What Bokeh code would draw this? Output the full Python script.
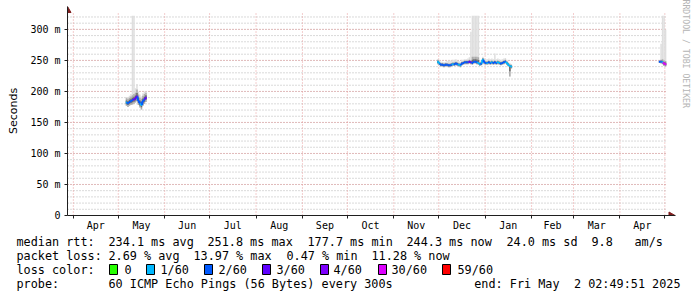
import math
import pandas as pd
from bokeh.plotting import figure
from bokeh.layouts import column
from bokeh.models import ColumnDataSource, FixedTicker, Range1d, Title
from bokeh.core.properties import value
from bokeh.embed import file_html
from bokeh.resources import INLINE

# ---------------- data ----------------
END = "2025-05-02 02:49:51"
SPAN_DAYS = 400

# cluster 1 : daily samples from 2024-05-06
c1_start = "2024-05-06"
c1_median = [182, 181, 183, 184, 186, 187, 189, 192, 185, 181, 178, 184, 187, 190]
c1_loss = [1, 2, 2, 2, 2, 3, 3, 3, 2, 2, 1, 2, 2, 3]
c1_lo = [177, 175, 177, 178, 179, 180, 182, 184, 178, 174, 171, 177, 180, 183]
c1_hi = [189, 188, 190, 192, 194, 196, 198, 203, 195, 190, 188, 193, 196, 198]
c1_top = [191, 190, 193, 196, 322, 322, 205, 212, 200, 195, 192, 197, 200, 200]

# cluster 2 : daily samples from 2024-11-30
c2_start = "2024-11-30"
c2_median = [248, 245, 243, 243, 242, 243, 243, 242, 242, 243,
             244, 244, 245, 244, 243, 242, 245, 246, 247, 247,
             247, 248, 247, 246, 248, 248, 247, 246, 244, 245,
             251, 247, 246, 246, 247, 246, 247, 246, 247, 246,
             247, 246, 245, 246, 247, 248, 246, 243, 241, 240]
c2_loss = [1, 1, 2, 2, 2, 2, 2, 2, 2, 2,
           1, 2, 2, 2, 1, 1, 2, 2, 2, 2,
           2, 3, 3, 2, 2, 2, 2, 1, 1, 2,
           1, 2, 2, 1, 2, 2, 1, 2, 2, 2,
           1, 1, 2, 2, 2, 2, 1, 1, 1, 1]
c2_lo = [244, 242, 240, 240, 239, 240, 240, 239, 239, 240,
         241, 241, 242, 241, 240, 239, 242, 243, 244, 244,
         244, 245, 244, 243, 245, 245, 244, 243, 241, 242,
         247, 244, 243, 243, 244, 243, 244, 243, 244, 243,
         244, 243, 242, 243, 244, 245, 243, 240, 224, 237]
c2_hi = [251, 248, 246, 246, 245, 246, 246, 245, 245, 246,
         247, 247, 248, 247, 246, 245, 248, 249, 250, 250,
         250, 251, 250, 256, 256, 256, 256, 255, 247, 248,
         254, 250, 249, 249, 250, 249, 250, 249, 250, 249,
         250, 249, 248, 249, 250, 251, 249, 246, 244, 243]
c2_top = [252, 250, 248, 248, 247, 248, 249, 250, 250, 250,
          251, 251, 252, 250, 249, 248, 251, 251, 252, 252,
          253, 255, 296, 322, 322, 322, 322, 322, 250, 250,
          256, 253, 252, 252, 253, 252, 253, 252, 261, 252,
          253, 252, 251, 252, 253, 254, 251, 248, 246, 244]

# cluster 3 : daily samples from 2025-04-27
c3_start = "2025-04-27"
c3_median = [248, 248, 247, 245, 244]
c3_loss = [2, 2, 1, 5, 5]
c3_lo = [246, 245, 244, 241, 240]
c3_hi = [250, 251, 252, 250, 249]
c3_top = [250, 277, 322, 322, 300]

loss_labels = ["0", "1/60", "2/60", "3/60", "4/60", "30/60", "59/60"]
loss_colors = ["#26ff00", "#00b8ff", "#0059ff", "#5e00ff", "#7e00ff", "#dd00ff", "#ff0000"]

month_labels = ["Apr", "May", "Jun", "Jul", "Aug", "Sep", "Oct", "Nov", "Dec",
                "Jan", "Feb", "Mar", "Apr"]
first_month = "2024-04-01"

y_ticks = [0, 50, 100, 150, 200, 250, 300]
y_labels = ["0", "50 m", "100 m", "150 m", "200 m", "250 m", "300 m"]
y_minor = list(range(10, 330, 10))

rtt_items = ["median rtt:", "234.1 ms avg", "251.8 ms max", "177.7 ms min",
             "244.3 ms now", "24.0 ms sd", "9.8", "am/s"]
loss_items = ["packet loss:", "2.69 % avg", "13.97 % max", "0.47 % min", "11.28 % now"]
probe_items = ["probe:", "60 ICMP Echo Pings (56 Bytes) every 300s"]
end_items = ["end: Fri May", "2 02:49:51 2025"]
credit = "RRDTOOL / TOBI OETIKER"

# ---------------- helpers ----------------
def to_ms(ts):
    return int(pd.Timestamp(ts).value // 1_000_000)

DAY = 86400000
end_ms = to_ms(END)
start_ms = end_ms - SPAN_DAYS * DAY
PX_MS = SPAN_DAYS * DAY / 600.0      # time per pixel
PX_Y = 324 / 201.0                    # ms of rtt per pixel

clusters = [
    (c1_start, c1_median, c1_loss, c1_lo, c1_hi, c1_top),
    (c2_start, c2_median, c2_loss, c2_lo, c2_hi, c2_top),
    (c3_start, c3_median, c3_loss, c3_lo, c3_hi, c3_top),
]

q = dict(left=[], right=[], lo=[], hi=[], top=[], ilo=[], ihi=[])
seg = dict(x0=[], x1=[], y0=[], y1=[], color=[])
for start, med, loss, lo, hi, top in clusters:
    t0 = to_ms(start)
    for i in range(len(med)):
        l = t0 + i * DAY
        r = min(l + DAY, end_ms)
        q["left"].append(l); q["right"].append(r)
        q["lo"].append(lo[i]); q["hi"].append(hi[i]); q["top"].append(top[i])
        q["ilo"].append((lo[i] + med[i]) / 2); q["ihi"].append((hi[i] + med[i]) / 2)
        c = loss_colors[loss[i]]
        seg["x0"].append(l); seg["x1"].append(r)
        seg["y0"].append(med[i]); seg["y1"].append(med[i]); seg["color"].append(c)
        if i > 0:
            seg["x0"].append(l); seg["x1"].append(l)
            seg["y0"].append(med[i - 1]); seg["y1"].append(med[i]); seg["color"].append(c)

qsrc = ColumnDataSource(q)
ssrc = ColumnDataSource(seg)

bounds = [to_ms(d) for d in pd.date_range(first_month, periods=len(month_labels) + 1, freq="MS")]
mids = [(bounds[i] + bounds[i + 1]) // 2 for i in range(len(month_labels))]

# ---------------- main figure ----------------
MONO = "DejaVu Sans Mono"
AXIS = "#1f1f1f"
ARROW = "#7f1f1f"
MGRID = "#e89c9c"
GRID = "#b4b4b4"

FRAME_TOP = 6
FRAME_BOTTOM = 215
FRAME_RIGHT = 676
H1 = 235
y_end = (FRAME_BOTTOM - FRAME_TOP) * PX_Y
x_end = end_ms + (FRAME_RIGHT - 667) * PX_MS

p = figure(width=697, height=H1, output_backend="svg", toolbar_location=None,
           x_range=Range1d(start_ms, x_end), y_range=Range1d(0, y_end),
           min_border_left=67, min_border_right=697 - FRAME_RIGHT,
           min_border_top=FRAME_TOP, min_border_bottom=H1 - FRAME_BOTTOM,
           background_fill_color="white", border_fill_color="white",
           outline_line_color=None)
p.frame_align = False
p.xgrid.visible = False
p.ygrid.visible = False

# grid (drawn within the data area only)
y_top_grid = 326
p.segment(x0=start_ms, x1=end_ms, y0=y_minor, y1=y_minor,
          line_color=GRID, line_dash="1 2", line_width=1)
p.segment(x0=start_ms, x1=end_ms, y0=y_ticks[1:], y1=y_ticks[1:],
          line_color=MGRID, line_dash="1 2", line_width=1)
p.segment(x0=bounds, x1=bounds, y0=0, y1=y_top_grid,
          line_color=MGRID, line_dash="1 2", line_width=1)

# axes
xa = p.xaxis[0]
xa.ticker = FixedTicker(ticks=mids, minor_ticks=bounds)
xa.major_label_overrides = {m: lab for m, lab in zip(mids, month_labels)}
xa.major_tick_out = 0
xa.major_tick_in = 0
xa.minor_tick_out = 3
xa.minor_tick_in = 0
xa.minor_tick_line_color = AXIS
xa.axis_line_color = AXIS
xa.major_label_standoff = 1
xa.major_label_text_font = MONO
xa.major_label_text_font_size = "10px"
xa.major_label_text_color = "black"

ya = p.yaxis[0]
ya.ticker = FixedTicker(ticks=y_ticks)
ya.major_label_overrides = {t: lab for t, lab in zip(y_ticks, y_labels)}
ya.major_tick_out = 3
ya.major_tick_in = 0
ya.minor_tick_out = 0
ya.minor_tick_in = 0
ya.major_tick_line_color = AXIS
ya.axis_line_color = AXIS
ya.major_label_standoff = 4
ya.major_label_text_font = MONO
ya.major_label_text_font_size = "10px"
ya.major_label_text_color = "black"
ya.axis_label = "Seconds"
ya.axis_label_text_font = "DejaVu Sans"
ya.axis_label_text_font_size = "11px"
ya.axis_label_text_font_style = "normal"
ya.axis_label_text_color = "black"
ya.axis_label_standoff = 7

# smoke
p.quad(left="left", right="right", bottom="lo", top="top", source=qsrc,
       fill_color="#dedede", line_color=None)
p.quad(left="left", right="right", bottom="lo", top="hi", source=qsrc,
       fill_color="#acacac", line_color=None)
p.quad(left="left", right="right", bottom="ilo", top="ihi", source=qsrc,
       fill_color="#6a6a6a", line_color=None)
# median coloured by loss
p.segment(x0="x0", y0="y0", x1="x1", y1="y1", color="color", source=ssrc, line_width=2)

# arrow heads at the axis ends
p.scatter(x=[start_ms], y=[y_end - 4 * PX_Y], marker="triangle", size=7,
          fill_color=ARROW, line_color=ARROW)
p.scatter(x=[end_ms + 4.5 * PX_MS], y=[0], marker="triangle", size=7, angle=-math.pi / 2,
          fill_color=ARROW, line_color=ARROW)

# credit on the right border
p.add_layout(Title(text=credit, align="left", text_font=MONO, text_font_size="8.2px",
                   text_color="#b4b4b4", text_font_style="normal", standoff=10, offset=-7), "right")

# ---------------- legend strip (canvas pixel coordinates) ----------------
H2 = 297 - H1
lg = figure(width=697, height=H2, output_backend="svg", toolbar_location=None,
            x_range=Range1d(0, 697), y_range=Range1d(297, H1),
            min_border=0, x_axis_location=None, y_axis_location=None,
            background_fill_color="white", border_fill_color="white",
            outline_line_color=None)
lg.frame_align = False
lg.grid.visible = False

LEG = "11.8px"
tx, ty, tt = [], [], []
for xx, s in zip([16, 108, 207, 307, 406, 506, 591, 634], rtt_items):
    tx.append(xx); ty.append(241); tt.append(s)
for xx, s in zip([16, 108, 193, 286, 371], loss_items):
    tx.append(xx); ty.append(255); tt.append(s)
tx.append(16); ty.append(269); tt.append("loss color:")
for xx, s in zip([124, 160, 218, 276, 333, 391, 457], loss_labels):
    tx.append(xx); ty.append(269); tt.append(s)
for xx, s in zip([16, 108], probe_items):
    tx.append(xx); ty.append(283); tt.append(s)
lg.text(x=tx, y=ty, text=tt, text_font=value(MONO), text_font_size=LEG,
        text_baseline="middle", text_align="left", text_color="black")
lg.text(x=[559, 680], y=[283, 283], text=end_items, text_font=value(MONO), text_font_size=LEG,
        text_baseline="middle", text_align="right", text_color="black")
box_x = [109, 146, 204, 262, 320, 378, 442]
lg.quad(left=box_x, right=[b + 8 for b in box_x], top=264, bottom=274,
        fill_color=loss_colors, line_color="black", line_width=1)

layout = column(p, lg, spacing=0)
open("out.html", "w").write(file_html(layout, INLINE))
